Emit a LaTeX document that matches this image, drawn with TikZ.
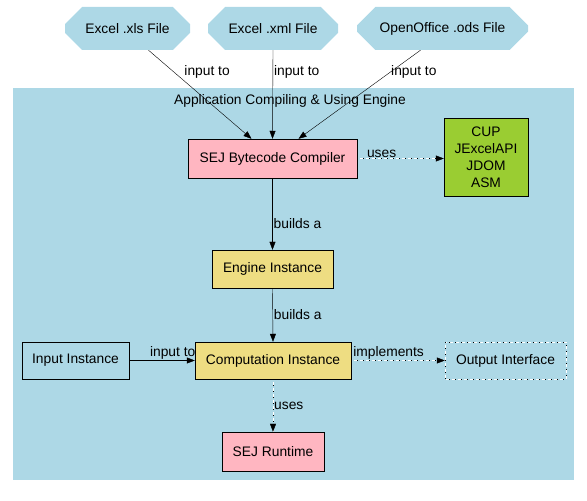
\documentclass[tikz,border=0pt]{standalone}
\usepackage{fontspec}
\setmainfont{Liberation Sans}
\usetikzlibrary{shapes.misc,arrows.meta}
\definecolor{lightblue}{HTML}{ADD8E6}
\definecolor{lightpink}{HTML}{FFB6C1}
\definecolor{goldenrod}{HTML}{EEDD82}
\definecolor{yellowgreen}{HTML}{9ACD32}
\tikzset{%
  file/.style={%
    chamfered rectangle,%
    chamfered rectangle xsep=14pt,%
    chamfered rectangle ysep=12pt,%
    fill=lightblue,%
    inner sep=0pt,%
    minimum height=43pt},
  box/.style={%
    rectangle,%
    draw,%
    inner sep=0pt,%
    align=center},
  flow/.style={%
    -{Triangle[length=8pt,width=6pt]}},
  weak/.style={%
    -{Triangle[length=8pt,width=6pt,color=black]},%
    dash pattern=on 1pt off 5pt,%
    preaction={draw=white,-,dash pattern=on 4pt off 2pt,dash phase=3pt}},
  lbl/.style={inner sep=1pt}
}

\begin{document}
\begin{tikzpicture}[x=1pt,y=1pt,every
        node/.style={font=\fontsize{13.8}{17}\selectfont}]
        \useasboundingbox (0,0) rectangle (587,501);
        % cluster
        \fill [lightblue] (13,21) rectangle (574,413);
        \node (app) at (290,400) {Application Compiling \& Using Engine};
        % input files
        \node [file,minimum width=125pt] (xls) at (127.5,472.5) {Excel .xls File};
        \node [file,minimum width=130pt] (xml) at (273,472.5) {Excel .xml File};
        \node [file,minimum width=171pt] (ods) at (442.5,472.5) {OpenOffice .ods File};
        % engine parts
        \node [box,fill=lightpink,minimum width=169pt,minimum height=39pt] (sej) at (272.5,342.5) {SEJ Bytecode Compiler};
        \node [box,fill=yellowgreen,minimum width=84pt,minimum height=78pt] (libs) at (486,344) {CUP\\JExcelAPI\\JDOM\\ASM};
        \node [box,fill=goldenrod,minimum width=121pt,minimum height=38pt] (engine) at (272.5,232) {Engine Instance};
        \node [box,fill=goldenrod,minimum width=156pt,minimum height=37pt] (comp) at (273,140.5) {Computation Instance};
        \node [box,minimum width=107pt,minimum height=37pt] (input) at (75.5,140.5) {Input Instance};
        \node [box,draw=none,minimum width=121pt,minimum height=37pt] (output) at (505.5,140.5) {Output Interface};
        \draw [weak,-] (output.north west) rectangle (output.south east);
        \node [box,fill=lightpink,minimum width=102pt,minimum height=39pt] (runtime) at (273,49.5) {SEJ Runtime};
        % connectors
        \draw [flow] ([xshift=21pt]xls.south) -- ([xshift=-21pt]sej.north)
          node [lbl,pos=0.25,anchor=west,xshift=9pt] {input to};
        \draw [flow] (xml.south) -- (sej.north)
          node [lbl,pos=0.25,anchor=west] {input to};
        \draw [flow] ([xshift=-22pt]ods.south) -- ([xshift=26pt]sej.north)
          node [lbl,pos=0.25,anchor=west] {input to};
        \draw [weak] (sej.east) -- (libs.west |- sej.east)
          node [lbl,pos=0.1,anchor=south west] {uses};
        \draw [flow] (sej.south) -- (engine.north)
          node [lbl,pos=0.64,anchor=west] {builds a};
        \draw [flow] (engine.south) -- (comp.north)
          node [lbl,pos=0.5,anchor=west] {builds a};
        \draw [flow] (input.east) -- (comp.west)
          node [lbl,pos=0.3,anchor=south west] {input to};
        \draw [weak] (comp.east) -- (output.west)
          node [lbl,pos=0.01,anchor=south west] {implements};
        \draw [weak] (comp.south) -- (runtime.north)
          node [lbl,pos=0.5,anchor=west] {uses};
      \end{tikzpicture}
\end{document}
